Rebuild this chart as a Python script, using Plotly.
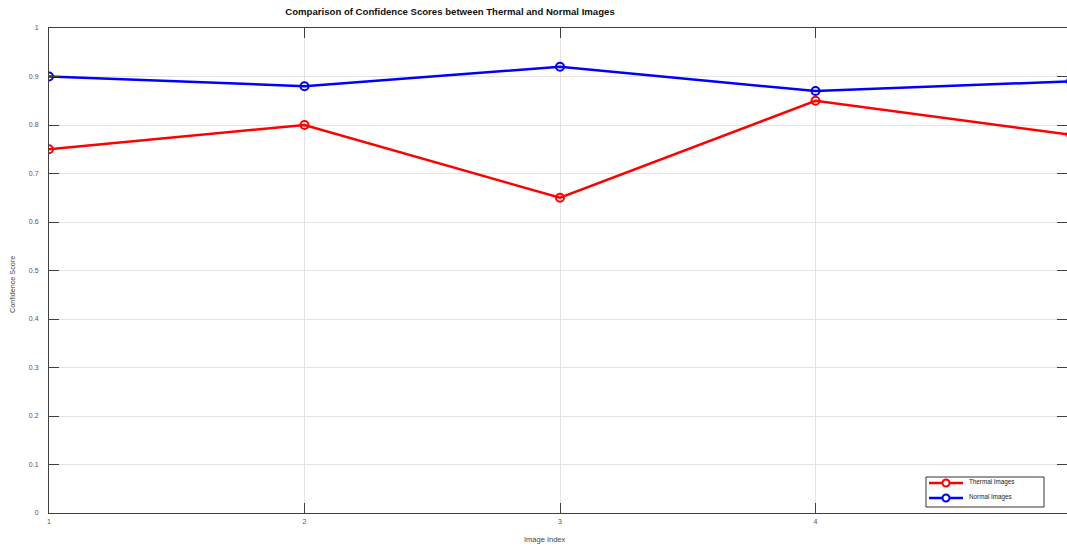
import plotly.graph_objects as go

# Per-image confidence scores
image_index = [1, 2, 3, 4, 5]
thermal_scores = [0.75, 0.80, 0.65, 0.85, 0.78]
normal_scores = [0.90, 0.88, 0.92, 0.87, 0.89]
y_ticks = [0, 0.1, 0.2, 0.3, 0.4, 0.5, 0.6, 0.7, 0.8, 0.9, 1]

series = [
    ("Thermal Images", thermal_scores, "#ff0000"),
    ("Normal Images", normal_scores, "#0000ff"),
]

FONT = "Liberation Sans, Arial, sans-serif"
AXIS_LINE = "#404040"
GRID = "#e3e3e3"

W, H = 1067, 546
L, T, B = 49, 28, 33
PLOT_W = W - L
PLOT_H = H - T - B


def px_x(p):
    """pixel column -> paper x"""
    return (p - L) / PLOT_W


def px_y(p):
    """pixel row -> paper y"""
    return (H - B - p) / PLOT_H


fig = go.Figure()

for name, values, color in series:
    fig.add_trace(go.Scatter(
        x=image_index, y=values, name=name,
        mode="lines+markers",
        line=dict(color=color, width=2.5),
        marker=dict(symbol="circle-open", size=8, color=color,
                    line=dict(width=2, color=color)),
        showlegend=False,
    ))

# empty trace that carries the right-hand tick axis
fig.add_trace(go.Scatter(x=[None], y=[None], yaxis="y2", showlegend=False,
                         hoverinfo="skip"))

# compact boxed legend in the lower-right corner
shapes = [dict(type="rect", xref="paper", yref="paper",
               x0=px_x(926), x1=px_x(1044), y0=px_y(507), y1=px_y(477),
               line=dict(color="#333333", width=1), fillcolor="white",
               layer="above")]
annotations = []
for i, (name, _, color) in enumerate(series):
    row = 483 + 15 * i
    shapes.append(dict(type="line", xref="paper", yref="paper",
                       x0=px_x(929), x1=px_x(963), y0=px_y(row), y1=px_y(row),
                       line=dict(color=color, width=2.5), layer="above"))
    shapes.append(dict(type="circle", xref="paper", yref="paper",
                       x0=px_x(942.5), x1=px_x(949.5),
                       y0=px_y(row + 3.5), y1=px_y(row - 3.5),
                       line=dict(color=color, width=2), fillcolor="white",
                       layer="above"))
    annotations.append(dict(text=name, xref="paper", yref="paper",
                            x=px_x(967), y=px_y(row - 1.5),
                            xanchor="left", yanchor="middle", showarrow=False,
                            font=dict(family=FONT, size=6.3, color="#222222")))

# axis titles
annotations.append(dict(text="Image Index", xref="paper", yref="paper",
                        x=px_x(545), y=px_y(539), xanchor="center",
                        yanchor="middle", showarrow=False,
                        font=dict(family=FONT, size=7.5, color="#444444")))
annotations.append(dict(text="Confidence Score", xref="paper", yref="paper",
                        x=px_x(12), y=px_y(285), xanchor="center",
                        yanchor="middle", showarrow=False, textangle=-90,
                        font=dict(family=FONT, size=7.2, color="#444444")))

fig.update_layout(
    width=W, height=H,
    margin=dict(l=L, r=0, t=T, b=B),
    plot_bgcolor="white", paper_bgcolor="white",
    font=dict(family=FONT, size=7, color="#555555"),
    title=dict(
        text="<b>Comparison of Confidence Scores between Thermal and Normal Images</b>",
        font=dict(family=FONT, size=9.6, color="#111111"),
        xref="container", x=450 / W, xanchor="center",
        yref="container", y=1 - 12 / H, yanchor="middle",
    ),
    xaxis=dict(
        range=[1, 1 + PLOT_W / 255.5],
        tickmode="array", tickvals=image_index,
        ticktext=[str(v) for v in image_index],
        showgrid=True, gridcolor=GRID, gridwidth=1,
        zeroline=False,
        showline=True, linecolor=AXIS_LINE, linewidth=1, mirror="ticks",
        ticks="inside", ticklen=10, tickwidth=1, tickcolor=AXIS_LINE,
        tickfont=dict(size=7, color="#555555"),
        ticklabelstandoff=2,
    ),
    yaxis=dict(
        range=[0, 1],
        tickmode="array", tickvals=y_ticks,
        ticktext=[("%g" % v) for v in y_ticks],
        showgrid=True, gridcolor=GRID, gridwidth=1,
        zeroline=False,
        showline=True, linecolor=AXIS_LINE, linewidth=1,
        ticks="inside", ticklen=10, tickwidth=1, tickcolor=AXIS_LINE,
        tickfont=dict(size=7, color="#555555"),
        ticklabelstandoff=8,
    ),
    yaxis2=dict(
        overlaying="y", side="right", range=[0, 1],
        tickmode="array", tickvals=y_ticks,
        showticklabels=False, showgrid=False, zeroline=False, showline=False,
        ticks="inside", ticklen=10, tickwidth=1, tickcolor=AXIS_LINE,
    ),
    shapes=shapes,
    annotations=annotations,
)

fig.write_html("out.html")
